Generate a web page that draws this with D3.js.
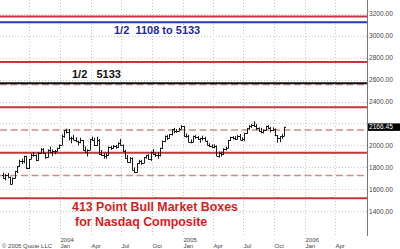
<!DOCTYPE html>
<html>
<head>
<meta charset="utf-8">
<script src="https://cdn.jsdelivr.net/npm/d3@7"></script>
<style>
  html, body { margin: 0; padding: 0; background: #fff; }
  svg { display: block; font-family: 'Liberation Sans', Arial, sans-serif; }
</style>
</head>
<body>
<svg id="chart" width="400" height="249"></svg>
<script>
// weekly bars, Monday of each week
const weeks = [
  '2003-07-14','2003-07-21','2003-07-28','2003-08-04','2003-08-11','2003-08-18','2003-08-25','2003-09-01',
  '2003-09-08','2003-09-15','2003-09-22','2003-09-29','2003-10-06','2003-10-13','2003-10-20','2003-10-27',
  '2003-11-03','2003-11-10','2003-11-17','2003-11-24','2003-12-01','2003-12-08','2003-12-15','2003-12-22',
  '2003-12-29','2004-01-05','2004-01-12','2004-01-19','2004-01-26','2004-02-02','2004-02-09','2004-02-16',
  '2004-02-23','2004-03-01','2004-03-08','2004-03-15','2004-03-22','2004-03-29','2004-04-05','2004-04-12',
  '2004-04-19','2004-04-26','2004-05-03','2004-05-10','2004-05-17','2004-05-24','2004-05-31','2004-06-07',
  '2004-06-14','2004-06-21','2004-06-28','2004-07-05','2004-07-12','2004-07-19','2004-07-26','2004-08-02',
  '2004-08-09','2004-08-16','2004-08-23','2004-08-30','2004-09-06','2004-09-13','2004-09-20','2004-09-27',
  '2004-10-04','2004-10-11','2004-10-18','2004-10-25','2004-11-01','2004-11-08','2004-11-15','2004-11-22',
  '2004-11-29','2004-12-06','2004-12-13','2004-12-20','2004-12-27','2005-01-03','2005-01-10','2005-01-17',
  '2005-01-24','2005-01-31','2005-02-07','2005-02-14','2005-02-21','2005-02-28','2005-03-07','2005-03-14',
  '2005-03-21','2005-03-28','2005-04-04','2005-04-11','2005-04-18','2005-04-25','2005-05-02','2005-05-09',
  '2005-05-16','2005-05-23','2005-05-30','2005-06-06','2005-06-13','2005-06-20','2005-06-27','2005-07-04',
  '2005-07-11','2005-07-18','2005-07-25','2005-08-01','2005-08-08','2005-08-15','2005-08-22','2005-08-29',
  '2005-09-05','2005-09-12','2005-09-19','2005-09-26','2005-10-03','2005-10-10','2005-10-17','2005-10-24',
  '2005-10-31'
];
const opens = [
  1733,1708,1731,1715,1653,1702,1765,1810,1858,1855,1905,1792,1880,1915,1912,1865,
  1932,1970,1930,1893,1960,1937,1949,1951,1974,2006,2086,2140,2124,2066,2064,2053,
  2038,2030,2047,1960,1940,1960,2057,2053,2000,2050,1920,1917,1905,1912,1987,1978,
  1999,1987,2025,2007,1946,1883,1849,1887,1777,1757,1838,1862,1844,1894,1910,1879,
  1942,1919,1911,1915,1975,2038,2085,2070,2101,2148,2129,2136,2154,2175,2088,2087,
  2034,2035,2086,2076,2058,2065,2071,2041,2007,1991,1985,1999,1909,1932,1921,1967,
  1977,2047,2075,2071,2063,2090,2053,2057,2112,2156,2180,2185,2177,2157,2135,2120,
  2141,2175,2160,2142,2152,2091,2064,2082,2089
];
const highs = [
  1754,1740,1750,1718,1710,1770,1812,1870,1880,1907,1906,1880,1925,1940,1920,1940,
  1977,1975,1935,1965,1990,1965,1960,1980,2010,2100,2140,2153,2150,2080,2095,2075,
  2045,2070,2050,1990,1965,2060,2080,2070,2080,2060,1960,1930,1935,1990,1995,2005,
  2005,2030,2060,2010,1960,1915,1895,1890,1800,1840,1870,1870,1895,1915,1920,1945,
  1970,1935,1940,1980,2045,2090,2095,2105,2150,2160,2150,2160,2185,2178,2110,2095,
  2055,2090,2095,2085,2070,2090,2080,2045,2020,2010,2010,2000,1945,1945,1975,1990,
  2050,2080,2085,2085,2095,2105,2075,2115,2160,2185,2195,2219,2195,2165,2160,2145,
  2180,2185,2170,2165,2155,2095,2085,2105,2170
];
const lows = [
  1700,1683,1702,1644,1650,1700,1750,1805,1830,1840,1786,1786,1875,1900,1858,1860,
  1925,1925,1880,1890,1930,1905,1920,1945,1970,2005,2070,2110,2045,2020,2050,2030,
  2000,2020,1955,1930,1900,1960,2040,1995,1995,1915,1905,1880,1880,1905,1960,1970,
  1970,1980,2000,1940,1880,1845,1840,1775,1750,1755,1830,1825,1840,1880,1870,1860,
  1915,1895,1880,1900,1970,2030,2050,2065,2090,2110,2115,2130,2150,2080,2070,2030,
  2020,2030,2060,2050,2025,2045,2035,2000,1985,1975,1975,1905,1890,1900,1915,1955,
  1975,2040,2055,2050,2055,2050,2040,2040,2105,2140,2160,2170,2140,2125,2110,2110,
  2135,2150,2120,2130,2085,2025,2030,2060,2085
];
const closes = [
  1708,1731,1715,1653,1702,1765,1810,1858,1855,1905,1792,1880,1915,1912,1865,1932,
  1970,1930,1893,1960,1937,1949,1951,1974,2006,2086,2140,2124,2066,2064,2053,2038,
  2030,2047,1960,1940,1960,2057,2053,2000,2050,1920,1917,1905,1912,1987,1978,1999,
  1987,2025,2007,1946,1883,1849,1887,1777,1757,1838,1862,1844,1894,1910,1879,1942,
  1919,1911,1915,1975,2038,2085,2070,2101,2148,2129,2136,2154,2175,2088,2087,2034,
  2035,2086,2076,2058,2065,2071,2041,2007,1991,1985,1999,1909,1932,1921,1967,1977,
  2047,2075,2071,2063,2090,2053,2057,2112,2156,2180,2185,2177,2157,2135,2120,2141,
  2175,2160,2142,2152,2091,2064,2082,2089,2166.45
];

// box levels (413 point boxes from 1108)
const boxLines = [1521, 1934, 2347, 2760, 3173];
const halfLines = [1727.5, 2140.5, 2553.5];
const halfBlue = 3120.5;   // 1/2 of 1108 to 5133
const halfBlack = 2566.5;  // 1/2 of 5133

const yTicks = [1400, 1600, 1800, 2000, 2200, 2400, 2600, 2800, 3000, 3200];
const lastPrice = 2166.45;

const svg = d3.select('#chart');
const W = 367, H = 236;

const x = d3.scaleTime()
  .domain([new Date(2003, 6, 5), new Date(2006, 6, 5)])
  .range([0, W]);
const y = d3.scaleLinear().domain([1177, 3323]).range([H, 0]);

const parse = d3.timeParse('%Y-%m-%d');
const bars = weeks.map((w, i) => ({
  date: parse(w), o: opens[i], h: highs[i], l: lows[i], c: closes[i]
}));

// grid, quarterly
const qTicks = d3.timeMonth.every(3).range(new Date(2003, 6, 1), new Date(2006, 6, 2))
  .filter(d => x(d) > 1 && x(d) < W - 5);

svg.append('g')
  .selectAll('line')
  .data(qTicks)
  .join('line')
  .attr('x1', d => Math.round(x(d)) + 0.5)
  .attr('x2', d => Math.round(x(d)) + 0.5)
  .attr('y1', 0).attr('y2', H)
  .attr('stroke', '#c8c8c8')
  .attr('stroke-dasharray', '1,2');

svg.append('g')
  .selectAll('line')
  .data(yTicks)
  .join('line')
  .attr('x1', 0).attr('x2', W)
  .attr('y1', d => Math.round(y(d)) + 0.5)
  .attr('y2', d => Math.round(y(d)) + 0.5)
  .attr('stroke', '#c8c8c8')
  .attr('stroke-dasharray', '1,2');

// box lines
svg.append('g')
  .selectAll('line')
  .data(halfLines)
  .join('line')
  .attr('x1', 0).attr('x2', W)
  .attr('y1', d => y(d)).attr('y2', d => y(d))
  .attr('stroke', '#d48a8a')
  .attr('stroke-width', 1.5)
  .attr('stroke-dasharray', '7,3.5');

svg.append('line')
  .attr('x1', 0).attr('x2', W)
  .attr('y1', y(halfBlack)).attr('y2', y(halfBlack))
  .attr('stroke', '#111').attr('stroke-width', 2);

svg.append('g')
  .selectAll('line')
  .data(boxLines)
  .join('line')
  .attr('x1', 0).attr('x2', W)
  .attr('y1', d => y(d)).attr('y2', d => y(d))
  .attr('stroke', '#c23838')
  .attr('stroke-width', 2);

svg.append('line')
  .attr('x1', 0).attr('x2', W)
  .attr('y1', y(halfBlue)).attr('y2', y(halfBlue))
  .attr('stroke', '#2b3aa8').attr('stroke-width', 2);

// OHLC bars
const bar = svg.append('g')
  .attr('stroke', '#1a1a1a')
  .attr('stroke-width', 1)
  .selectAll('g')
  .data(bars)
  .join('g');

bar.append('line')
  .attr('x1', d => Math.round(x(d.date)) + 0.5)
  .attr('x2', d => Math.round(x(d.date)) + 0.5)
  .attr('y1', d => y(d.h)).attr('y2', d => y(d.l));
bar.append('line')
  .attr('x1', d => Math.round(x(d.date)) - 1)
  .attr('x2', d => Math.round(x(d.date)) + 0.5)
  .attr('y1', d => Math.round(y(d.o)) + 0.5)
  .attr('y2', d => Math.round(y(d.o)) + 0.5);
bar.append('line')
  .attr('x1', d => Math.round(x(d.date)) + 0.5)
  .attr('x2', d => Math.round(x(d.date)) + 2)
  .attr('y1', d => Math.round(y(d.c)) + 0.5)
  .attr('y2', d => Math.round(y(d.c)) + 0.5);

// right axis
svg.append('line')
  .attr('x1', W + 0.5).attr('x2', W + 0.5)
  .attr('y1', 0).attr('y2', H)
  .attr('stroke', '#777');

// the price tag covers the nearby tick label
svg.append('g')
  .selectAll('text')
  .data(yTicks.filter(v => Math.abs(v - lastPrice) > 60))
  .join('text')
  .attr('x', W + 2)
  .attr('y', d => y(d))
  .attr('dy', '0.35em')
  .attr('font-size', 6.6)
  .attr('fill', '#444')
  .text(d => d3.format('.2f')(d));

// current price tag
svg.append('rect')
  .attr('x', W + 1).attr('y', y(lastPrice) - 3.8)
  .attr('width', 400 - W).attr('height', 7.5)
  .attr('fill', '#000');
svg.append('text')
  .attr('x', W + 2).attr('y', y(lastPrice))
  .attr('dy', '0.35em')
  .attr('font-size', 6.6)
  .attr('fill', '#fff')
  .text(d3.format('.2f')(lastPrice));

// month labels (none before 2004, the copyright sits there)
const mNames = ['Jan', 'Apr', 'Jul', 'Oct'];
const xl = svg.append('g').attr('font-size', 6).attr('fill', '#444');
qTicks.filter(d => d.getFullYear() >= 2004).forEach(d => {
  const px = Math.round(x(d)) + 0.5;
  xl.append('text').attr('x', px).attr('y', 248).text(mNames[d.getMonth() / 3]);
  if (d.getMonth() === 0) {
    xl.append('text').attr('x', px).attr('y', 241.5).text(d.getFullYear());
  }
});
xl.append('text').attr('x', 2).attr('y', 248).text('© 2005 Quote LLC');

// annotations
svg.append('text')
  .attr('x', 114).attr('y', 34)
  .attr('font-size', 11).attr('font-weight', 'bold')
  .attr('fill', '#1e2a9c')
  .style('white-space', 'pre')
  .text('1/2  1108 to 5133');

svg.append('text')
  .attr('x', 72).attr('y', 78)
  .attr('font-size', 11).attr('font-weight', 'bold')
  .attr('fill', '#111')
  .style('white-space', 'pre')
  .text('1/2   5133');

svg.append('text')
  .attr('x', 72).attr('y', 211)
  .attr('font-size', 12.4).attr('font-weight', 'bold')
  .attr('fill', '#d81c1c')
  .text('413 Point Bull Market Boxes');
svg.append('text')
  .attr('x', 75).attr('y', 226)
  .attr('font-size', 12.4).attr('font-weight', 'bold')
  .attr('fill', '#d81c1c')
  .text('for Nasdaq Composite');
</script>
</body>
</html>
